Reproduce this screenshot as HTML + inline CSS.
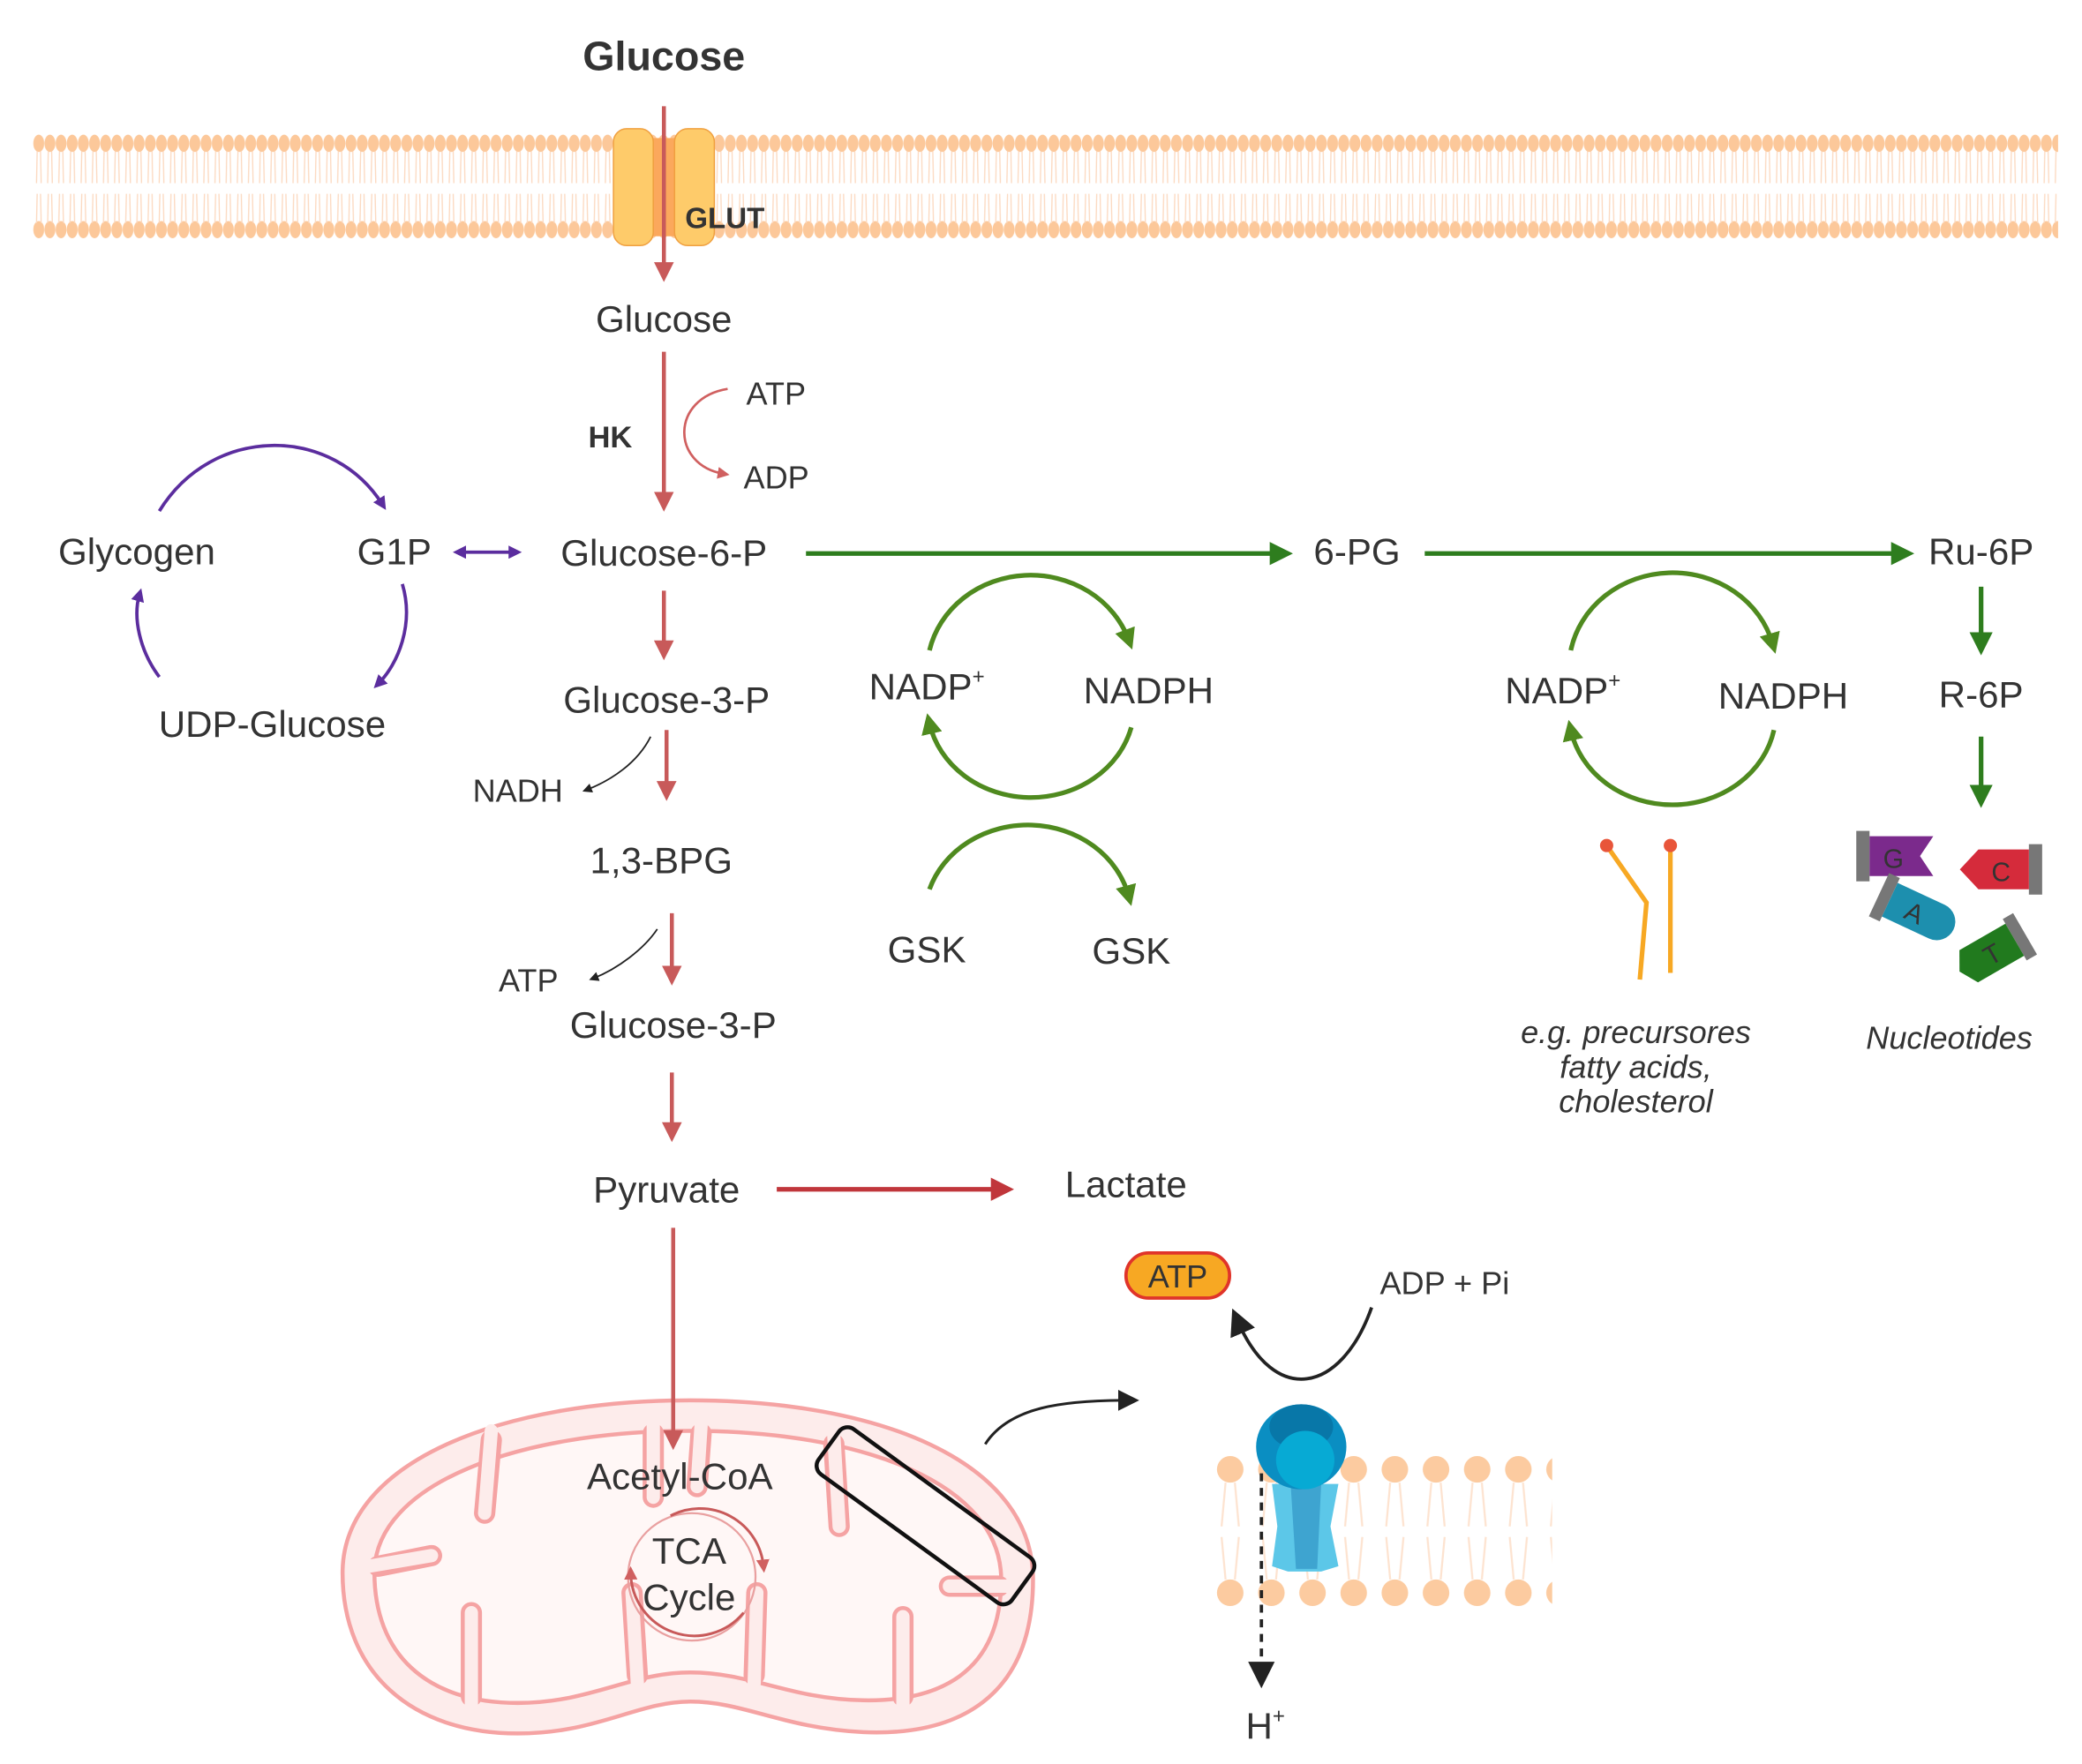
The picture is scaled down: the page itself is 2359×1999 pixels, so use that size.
<!DOCTYPE html>
<html><head><meta charset="utf-8"><style>
html,body{margin:0;padding:0;background:#fff;width:2359px;height:1999px;overflow:hidden}
svg{display:block}
text{font-family:"Liberation Sans",sans-serif;fill:#333}
</style></head><body>
<svg width="2359" height="1999" viewBox="0 0 1568 1329" preserveAspectRatio="none" xmlns="http://www.w3.org/2000/svg">
<defs>
<pattern id="mem" x="25" y="0" width="8.4" height="1329" patternUnits="userSpaceOnUse">
<ellipse cx="4.2" cy="108" rx="4.1" ry="6.5" fill="#fcc89a"/>
<ellipse cx="4.2" cy="173" rx="4.1" ry="6.5" fill="#fcc89a"/>
<path d="M3 114 L2.5 138 M5.5 114 L6 138 M3 146 L2.5 168 M5.5 146 L6 168" stroke="#fcd9c0" stroke-width="0.9"/>
</pattern>
<pattern id="mem2" x="911" y="0" width="31" height="1329" patternUnits="userSpaceOnUse">
<circle cx="15.5" cy="1107" r="10" fill="#fccba0"/>
<circle cx="15.5" cy="1200" r="10" fill="#fccba0"/>
<path d="M12 1117 L9 1150 M19 1117 L22 1150 M9 1158 L12 1190 M22 1158 L19 1190" stroke="#fde3d0" stroke-width="1.5"/>
</pattern>
<marker id="ar" viewBox="0 0 10 10" refX="5" refY="5" markerWidth="5" markerHeight="5" orient="auto"><path d="M0 0 L10 5 L0 10z" fill="#c85a5a"/></marker>
<marker id="ard" viewBox="0 0 10 10" refX="5" refY="5" markerWidth="5" markerHeight="5" orient="auto"><path d="M0 0 L10 5 L0 10z" fill="#c0363b"/></marker>
<marker id="ag" viewBox="0 0 10 10" refX="5" refY="5" markerWidth="5" markerHeight="5" orient="auto"><path d="M0 0 L10 5 L0 10z" fill="#2e7d1e"/></marker>
<marker id="ag2" viewBox="0 0 10 10" refX="5" refY="5" markerWidth="4.5" markerHeight="4.5" orient="auto"><path d="M0 0 L10 5 L0 10z" fill="#4f8a1f"/></marker>
<marker id="ap" viewBox="0 0 10 10" refX="5" refY="5" markerWidth="4" markerHeight="4" orient="auto"><path d="M0 0 L10 5 L0 10z" fill="#5b2d9e"/></marker>
<marker id="apb" viewBox="0 0 10 10" refX="5" refY="5" markerWidth="4" markerHeight="4" orient="auto-start-reverse"><path d="M0 0 L10 5 L0 10z" fill="#5b2d9e"/></marker>
<marker id="ab" viewBox="0 0 10 10" refX="5" refY="5" markerWidth="6" markerHeight="6" orient="auto"><path d="M0 0 L10 5 L0 10z" fill="#222"/></marker>
<marker id="abs" viewBox="0 0 10 10" refX="5" refY="5" markerWidth="8" markerHeight="8" orient="auto"><path d="M0 0 L10 5 L0 10z" fill="#222"/></marker>
<marker id="asr" viewBox="0 0 10 10" refX="5" refY="5" markerWidth="5" markerHeight="5" orient="auto"><path d="M0 0 L10 5 L0 10z" fill="#d06060"/></marker>
</defs>

<rect x="25" y="100" width="1525" height="82" fill="url(#mem)"/>
<rect x="486" y="104" width="26" height="74" fill="#fba85c"/>
<rect x="462" y="97" width="30" height="88" rx="10" fill="#fecb6a" stroke="#f0a040" stroke-width="1"/>
<rect x="508" y="97" width="30" height="88" rx="10" fill="#fecb6a" stroke="#f0a040" stroke-width="1"/>
<text x="500" y="53" font-size="31" font-weight="bold" text-anchor="middle" fill="#000">Glucose</text>
<line x1="500" y1="80" x2="500" y2="205" stroke="#c85a5a" stroke-width="3" marker-end="url(#ar)"/>
<text x="516" y="172" font-size="22" font-weight="bold" fill="#000">GLUT</text>

<text x="500" y="250" font-size="28" text-anchor="middle">Glucose</text>
<line x1="500" y1="265" x2="500" y2="378" stroke="#c85a5a" stroke-width="3" marker-end="url(#ar)"/>
<text x="443" y="337" font-size="23" font-weight="bold" fill="#111">HK</text>
<path d="M548 293 C505 300 505 350 545 357" fill="none" stroke="#d06060" stroke-width="1.8" marker-end="url(#asr)"/>
<text x="562" y="305" font-size="24">ATP</text>
<text x="560" y="368" font-size="24">ADP</text>

<text x="500" y="426" font-size="28" text-anchor="middle">Glucose-6-P</text>
<text x="297" y="425" font-size="28" text-anchor="middle">G1P</text>
<text x="103" y="425" font-size="28" text-anchor="middle">Glycogen</text>
<text x="205" y="555" font-size="28" text-anchor="middle">UDP-Glucose</text>
<line x1="346" y1="416" x2="388" y2="416" stroke="#5b2d9e" stroke-width="2.5" marker-start="url(#apb)" marker-end="url(#ap)"/>
<path d="M120 385 C160 320 250 320 288 380" fill="none" stroke="#5b2d9e" stroke-width="2.5" marker-end="url(#ap)"/>
<path d="M303 440 C312 470 300 500 285 515" fill="none" stroke="#5b2d9e" stroke-width="2.5" marker-end="url(#ap)"/>
<path d="M120 510 C105 490 100 465 105 448" fill="none" stroke="#5b2d9e" stroke-width="2.5" marker-end="url(#ap)"/>

<line x1="607" y1="417" x2="965" y2="417" stroke="#2e7d1e" stroke-width="3.5" marker-end="url(#ag)"/>
<text x="1022" y="425" font-size="28" text-anchor="middle">6-PG</text>
<line x1="1073" y1="417" x2="1433" y2="417" stroke="#2e7d1e" stroke-width="3.5" marker-end="url(#ag)"/>
<text x="1492" y="425" font-size="28" text-anchor="middle">Ru-6P</text>
<line x1="1492" y1="442" x2="1492" y2="485" stroke="#2e7d1e" stroke-width="3.5" marker-end="url(#ag)"/>
<text x="1492" y="533" font-size="28" text-anchor="middle">R-6P</text>
<line x1="1492" y1="555" x2="1492" y2="600" stroke="#2e7d1e" stroke-width="3.5" marker-end="url(#ag)"/>

<path d="M700 490 A78 72 0 0 1 850 482" fill="none" stroke="#4f8a1f" stroke-width="3.5" marker-end="url(#ag2)"/>
<path d="M852 548 A78 70 0 0 1 700 545" fill="none" stroke="#4f8a1f" stroke-width="3.5" marker-end="url(#ag2)"/>
<path d="M700 670 A78 70 0 0 1 850 675" fill="none" stroke="#4f8a1f" stroke-width="3.5" marker-end="url(#ag2)"/>
<text x="698" y="527" font-size="28" text-anchor="middle">NADP<tspan font-size="16" dy="-12">+</tspan></text>
<text x="865" y="530" font-size="28" text-anchor="middle">NADPH</text>
<text x="698" y="725" font-size="28" text-anchor="middle">GSK</text>
<text x="852" y="726" font-size="28" text-anchor="middle">GSK</text>

<path d="M1183 490 A78 72 0 0 1 1335 485" fill="none" stroke="#4f8a1f" stroke-width="3.5" marker-end="url(#ag2)"/>
<path d="M1336 550 A78 70 0 0 1 1183 550" fill="none" stroke="#4f8a1f" stroke-width="3.5" marker-end="url(#ag2)"/>
<text x="1177" y="530" font-size="28" text-anchor="middle">NADP<tspan font-size="16" dy="-12">+</tspan></text>
<text x="1343" y="534" font-size="28" text-anchor="middle">NADPH</text>

<path d="M1210 637 L1240 680 L1235 738" fill="none" stroke="#f7a823" stroke-width="3.5"/>
<line x1="1258" y1="637" x2="1258" y2="733" stroke="#f7a823" stroke-width="3.5"/>
<circle cx="1210" cy="637" r="5" fill="#e8553a"/><circle cx="1258" cy="637" r="5" fill="#e8553a"/>
<g font-style="italic" font-size="24" text-anchor="middle">
<text x="1232" y="786">e.g. precursores</text>
<text x="1232" y="812">fatty acids,</text>
<text x="1232" y="838">cholesterol</text>
<text x="1468" y="790">Nucleotides</text>
</g>
<rect x="1398" y="626" width="10" height="38" fill="#777"/>
<path d="M1408 630 L1456 630 L1446 645 L1456 660 L1408 660z" fill="#7b2a8c"/>
<text x="1426" y="654" font-size="20" fill="#fff" text-anchor="middle">G</text>
<rect x="1528" y="636" width="10" height="38" fill="#777"/>
<path d="M1528 640 L1490 640 L1476 655 L1490 670 L1528 670z" fill="#d52b3b"/>
<text x="1507" y="664" font-size="20" fill="#fff" text-anchor="middle">C</text>
<g transform="rotate(25 1445 688)"><rect x="1412" y="670" width="9" height="36" fill="#777"/><path d="M1421 674 L1460 674 A14 14 0 0 1 1460 702 L1421 702z" fill="#1d8fae"/><text x="1442" y="696" font-size="20" fill="#fff" text-anchor="middle">A</text></g>
<g transform="rotate(-30 1500 718)"><rect x="1520" y="700" width="9" height="36" fill="#777"/><path d="M1520 704 L1480 704 L1472 718 L1480 732 L1520 732z" fill="#217a1e"/><text x="1500" y="726" font-size="20" fill="#fff" text-anchor="middle">T</text></g>

<line x1="500" y1="445" x2="500" y2="490" stroke="#c85a5a" stroke-width="3" marker-end="url(#ar)"/>
<text x="502" y="537" font-size="28" text-anchor="middle">Glucose-3-P</text>
<line x1="502" y1="550" x2="502" y2="596" stroke="#c85a5a" stroke-width="3" marker-end="url(#ar)"/>
<path d="M490 555 C480 575 460 588 442 595" fill="none" stroke="#222" stroke-width="1.2" marker-end="url(#ab)"/>
<text x="390" y="604" font-size="24" text-anchor="middle">NADH</text>
<text x="498" y="658" font-size="28" text-anchor="middle">1,3-BPG</text>
<line x1="506" y1="688" x2="506" y2="735" stroke="#c85a5a" stroke-width="3" marker-end="url(#ar)"/>
<path d="M495 700 C485 715 465 730 447 737" fill="none" stroke="#222" stroke-width="1.2" marker-end="url(#ab)"/>
<text x="398" y="747" font-size="24" text-anchor="middle">ATP</text>
<text x="507" y="782" font-size="28" text-anchor="middle">Glucose-3-P</text>
<line x1="506" y1="808" x2="506" y2="853" stroke="#c85a5a" stroke-width="3" marker-end="url(#ar)"/>
<text x="502" y="906" font-size="28" text-anchor="middle">Pyruvate</text>
<line x1="585" y1="896" x2="755" y2="896" stroke="#c0363b" stroke-width="3.5" marker-end="url(#ard)"/>
<text x="848" y="902" font-size="28" text-anchor="middle">Lactate</text>

<path d="M258 1185 C258 1100 380 1055 520 1055 C660 1055 778 1100 778 1190 C778 1280 720 1308 650 1305 C590 1302 560 1282 520 1282 C480 1282 450 1306 390 1306 C310 1306 258 1260 258 1185z" fill="#fdeceb" stroke="#f5a3a3" stroke-width="3"/>
<path d="M282 1185 C282 1118 390 1078 520 1078 C650 1078 754 1118 754 1190 C754 1262 705 1282 650 1281 C595 1280 565 1260 520 1260 C475 1260 445 1283 390 1283 C320 1283 282 1245 282 1185z" fill="#fff7f6" stroke="#f5a3a3" stroke-width="3"/>
<g stroke-linecap="round" fill="none">
<g stroke="#f5a3a3" stroke-width="16">
<path d="M370 1085 L365 1140"/><path d="M492 1080 L492 1128"/><path d="M528 1080 L525 1120"/><path d="M628 1088 L632 1150"/>
<path d="M285 1180 L325 1172"/><path d="M752 1195 L715 1195"/>
<path d="M355 1278 L355 1215"/><path d="M480 1262 L476 1200"/><path d="M568 1262 L570 1200"/><path d="M680 1278 L680 1218"/>
</g>
<g stroke="#fdeceb" stroke-width="10">
<path d="M370 1078 L365 1140"/><path d="M492 1074 L492 1128"/><path d="M528 1074 L525 1120"/><path d="M628 1082 L632 1150"/>
<path d="M278 1180 L325 1172"/><path d="M759 1195 L715 1195"/>
<path d="M355 1285 L355 1215"/><path d="M480 1268 L476 1200"/><path d="M568 1268 L570 1200"/><path d="M680 1285 L680 1218"/>
</g>
</g>
<circle cx="521" cy="1188" r="48" fill="none" stroke="#e9a0a0" stroke-width="1.5"/>
<path d="M505 1142 A48 48 0 0 1 575 1180" fill="none" stroke="#c85a5a" stroke-width="2" marker-end="url(#asr)"/>
<path d="M560 1215 A48 48 0 0 1 475 1185" fill="none" stroke="#c85a5a" stroke-width="2" marker-end="url(#asr)"/>
<line x1="507" y1="925" x2="507" y2="1085" stroke="#c85a5a" stroke-width="3" marker-end="url(#ar)"/>
<text x="512" y="1122" font-size="28" text-anchor="middle" fill="#222">Acetyl-CoA</text>
<text x="519" y="1178" font-size="28" text-anchor="middle" fill="#222">TCA</text>
<text x="519" y="1213" font-size="28" text-anchor="middle" fill="#222">Cycle</text>
<rect x="607" y="1121" width="180" height="42" rx="8" fill="none" stroke="#111" stroke-width="3" transform="rotate(36 697 1142)"/>
<path d="M742 1088 C760 1060 800 1055 850 1055" fill="none" stroke="#222" stroke-width="2" marker-end="url(#abs)"/>

<rect x="911" y="1095" width="258" height="118" fill="url(#mem2)"/>
<path d="M958 1118 L1008 1118 L1002 1150 L1008 1180 L995 1184 L970 1184 L958 1180 L962 1150z" fill="#5cc7e8"/>
<path d="M972 1118 L995 1118 L992 1182 L976 1182z" fill="#3ea4d0"/>
<ellipse cx="980" cy="1090" rx="34" ry="32" fill="#0a8ec2"/>
<ellipse cx="980" cy="1075" rx="24" ry="17" fill="#0877a8"/>
<ellipse cx="983" cy="1100" rx="22" ry="22" fill="#07aad4"/>
<line x1="950" y1="1110" x2="950" y2="1262" stroke="#222" stroke-width="2.5" stroke-dasharray="6 5" marker-end="url(#abs)"/>
<text x="953" y="1310" font-size="28" text-anchor="middle">H<tspan font-size="16" dy="-12">+</tspan></text>
<rect x="848" y="944" width="78" height="34" rx="17" fill="#f7a823" stroke="#e0342a" stroke-width="2.5"/>
<text x="887" y="970" font-size="24" text-anchor="middle" fill="#222">ATP</text>
<text x="1088" y="975" font-size="24" text-anchor="middle">ADP + Pi</text>
<path d="M1033 985 C1010 1050 960 1060 932 995" fill="none" stroke="#222" stroke-width="2.5" marker-end="url(#abs)"/>
</svg>
</body></html>
